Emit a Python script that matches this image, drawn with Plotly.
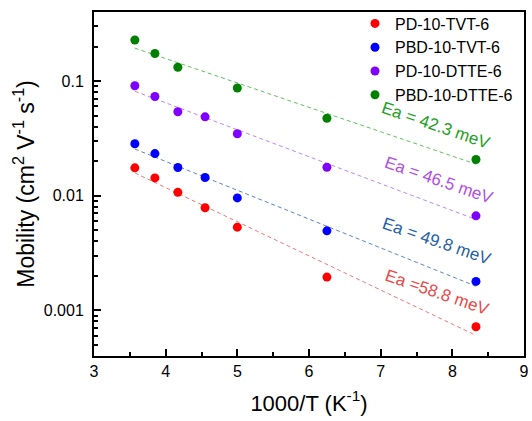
import numpy as np
import plotly.graph_objects as go

# Data (1000/T in K^-1, mobility in cm^2 V^-1 s^-1)
x_all = [3.57, 3.85, 4.17, 4.55, 5.0, 6.25, 8.33]
x_green = [3.57, 3.85, 4.17, 5.0, 6.25, 8.33]

pd_tvt = [0.0175, 0.0143, 0.0107, 0.00785, 0.00532, 0.00195, 0.00072]
pbd_tvt = [0.0284, 0.0233, 0.0176, 0.0144, 0.00957, 0.00494, 0.00179]
pd_dtte = [0.091, 0.0733, 0.054, 0.0487, 0.0347, 0.0177, 0.00667]
pbd_dtte = [0.228, 0.174, 0.132, 0.087, 0.0474, 0.0207]

names = ["PD-10-TVT-6", "PBD-10-TVT-6", "PD-10-DTTE-6", "PBD-10-DTTE-6"]
xs = [x_all, x_all, x_all, x_green]
ys = [pd_tvt, pbd_tvt, pd_dtte, pbd_dtte]
marker_colors = ["#ff0000", "#0000ff", "#8000ff", "#008000"]
line_colors = ["#f07878", "#5a86c8", "#c088f0", "#60c060"]
labels = ["Ea =58.8 meV", "Ea = 49.8 meV", "Ea = 46.5 meV", "Ea = 42.3 meV"]
label_colors = ["#e84848", "#1f5fa8", "#b050e0", "#22a022"]
label_pos = [(7.79, -2.84), (7.79, -2.40), (7.82, -1.87), (7.77, -1.39)]

FONT = "Liberation Sans, Arial"

fig = go.Figure()

# Fit lines (linear fit of log10 mobility vs 1000/T)
for x, y, lc in zip(xs, ys, line_colors):
    p = np.polyfit(np.array(x), np.log10(np.array(y)), 1)
    xf = np.array([x[0], x[-1]])
    fig.add_trace(go.Scatter(x=xf, y=10 ** np.polyval(p, xf), mode="lines",
                             line=dict(color=lc, width=1, dash="4px,3px"),
                             showlegend=False, hoverinfo="skip"))

for x, y, n, mc in zip(xs, ys, names, marker_colors):
    fig.add_trace(go.Scatter(x=x, y=y, mode="markers", name=n,
                             marker=dict(color=mc, size=9)))

for t, c, (ax_, ay_) in zip(labels, label_colors, label_pos):
    fig.add_annotation(x=ax_, y=ay_, xref="x", yref="y", text=t, showarrow=False,
                       textangle=19, font=dict(size=17, color=c, family=FONT))

axis_common = dict(showline=True, linecolor="black", linewidth=2, mirror=True,
                   ticks="inside", tickcolor="black", tickwidth=1.5, ticklen=7,
                   showgrid=False, zeroline=False, automargin=False,
                   tickfont=dict(size=16, color="black", family=FONT))

fig.update_xaxes(range=[3, 9], tickvals=[3, 4, 5, 6, 7, 8, 9],
                 ticktext=["3", "4", "5", "6", "7", "8", "9"],
                 minor=dict(ticks="inside", ticklen=4, tickcolor="black", tickwidth=1.5,
                            tickvals=[3.5, 4.5, 5.5, 6.5, 7.5, 8.5]),
                 title=dict(text="1000/T (K<sup>-1</sup>)", standoff=16,
                            font=dict(size=22, color="black", family=FONT)),
                 **axis_common)
fig.update_yaxes(type="log", range=[np.log10(4e-4), np.log10(0.4)],
                 tickvals=[0.001, 0.01, 0.1], ticktext=["0.001", "0.01", "0.1"],
                 ticklabelstandoff=5,
                 minor=dict(ticks="inside", ticklen=4, tickcolor="black", tickwidth=1.5,
                            tickvals=[a * 10.0 ** b for b in (-4, -3, -2, -1) for a in range(2, 10)
                                      if 4e-4 <= a * 10.0 ** b <= 0.4]),
                 title=dict(text="Mobility (cm<sup>2</sup> V<sup>-1</sup> s<sup>-1</sup>)", standoff=3,
                            font=dict(size=23, color="black", family=FONT)),
                 **axis_common)

fig.update_layout(
    width=532, height=421,
    margin=dict(l=94, r=8, t=6, b=65),
    paper_bgcolor="white", plot_bgcolor="white",
    font=dict(family=FONT, color="black"),
    legend=dict(x=0.607, y=1.016, xanchor="left", yanchor="top",
                bgcolor="rgba(0,0,0,0)", font=dict(size=16, color="black", family=FONT),
                tracegroupgap=0, itemsizing="trace"),
)

fig.write_html("out.html", config={"displayModeBar": False},
               post_script="document.body.style.margin='0';")
